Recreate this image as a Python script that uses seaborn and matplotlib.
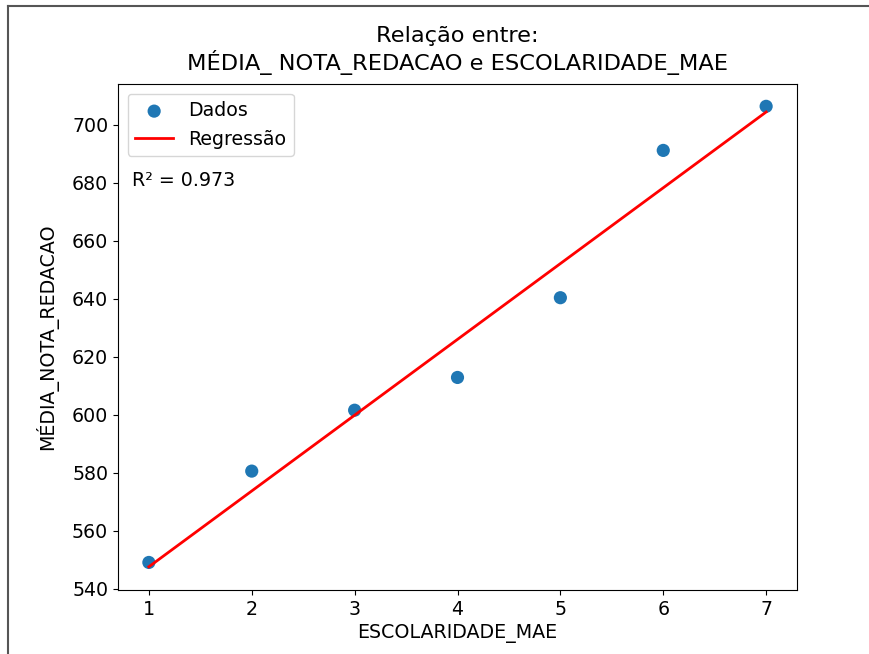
import numpy as np
import pandas as pd
import matplotlib
matplotlib.use('Agg')
import matplotlib.pyplot as plt
from matplotlib.lines import Line2D
import seaborn as sns

# Data
escolaridade = [1, 2, 3, 4, 5, 6, 7]
media_redacao = [549.1, 580.6, 601.6, 612.9, 640.4, 691.2, 706.4]

df = pd.DataFrame({'ESCOLARIDADE_MAE': escolaridade, 'MEDIA_NOTA_REDACAO': media_redacao})

# Linear regression
coef = np.polyfit(df['ESCOLARIDADE_MAE'], df['MEDIA_NOTA_REDACAO'], 1)
df['pred'] = np.polyval(coef, df['ESCOLARIDADE_MAE'])
ss_res = ((df['MEDIA_NOTA_REDACAO'] - df['pred']) ** 2).sum()
ss_tot = ((df['MEDIA_NOTA_REDACAO'] - df['MEDIA_NOTA_REDACAO'].mean()) ** 2).sum()
r2 = 1 - ss_res / ss_tot

plt.rcParams['font.size'] = 13.7

fig = plt.figure(figsize=(8.69, 6.54), dpi=100)
ax = fig.add_axes([118 / 869, 1 - 590 / 654, 679 / 869, 506 / 654])

sns.scatterplot(data=df, x='ESCOLARIDADE_MAE', y='MEDIA_NOTA_REDACAO', ax=ax,
                color='#1f77b4', s=90, edgecolor='none', label='Dados', zorder=2)
sns.lineplot(data=df, x='ESCOLARIDADE_MAE', y='pred', ax=ax,
             color='red', linewidth=2, label='Regressão', zorder=3)

ax.text(0.02, 0.81, f'R² = {r2:.3f}', transform=ax.transAxes, va='center')

ax.set_yticks([540, 560, 580, 600, 620, 640, 660, 680, 700])
ax.set_ylim(539.6, 714.1)
ax.set_xlim(0.7, 7.3)
ax.set_title('Relação entre:\nMÉDIA_ NOTA_REDACAO e ESCOLARIDADE_MAE', fontsize=16.2, pad=10)
ax.set_xlabel('ESCOLARIDADE_MAE')
ax.set_ylabel('MÉDIA_NOTA_REDACAO', labelpad=10)
ax.legend(loc='upper left')

# screenshot frame
fig.add_artist(Line2D([8 / 869, 8 / 869], [0, 1 - 6 / 654], transform=fig.transFigure, color='#555555', linewidth=1.5))
fig.add_artist(Line2D([8 / 869, 1], [1 - 6 / 654, 1 - 6 / 654], transform=fig.transFigure, color='#555555', linewidth=1.5))

fig.savefig('out.png', dpi=100)
